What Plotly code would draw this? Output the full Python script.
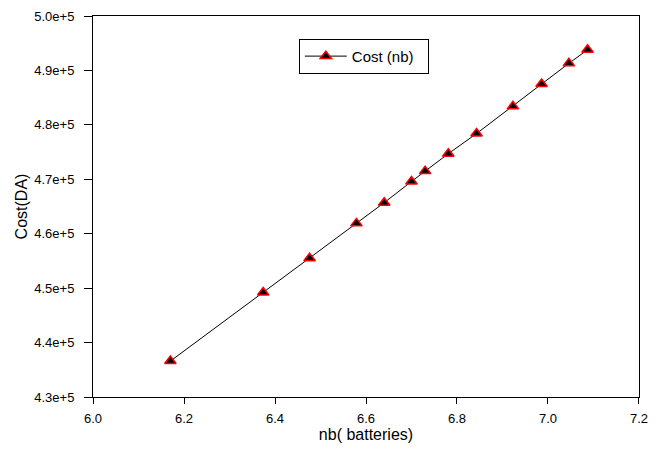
import plotly.graph_objects as go

nb_batteries = [6.170, 6.374, 6.476, 6.579, 6.640, 6.700, 6.730, 6.781, 6.843, 6.923, 6.986, 7.046, 7.087]
cost_da = [436600, 449200, 455500, 461900, 465700, 469600, 471500, 474700, 478400, 483400, 487500, 491300, 493800]
series_name = "Cost (nb)"
x_ticks = [6.0, 6.2, 6.4, 6.6, 6.8, 7.0, 7.2]
y_ticks = [430000, 440000, 450000, 460000, 470000, 480000, 490000, 500000]

fig = go.Figure()
fig.add_trace(go.Scatter(
    x=nb_batteries, y=cost_da, mode="lines+markers", name=series_name + "  ",
    line=dict(color="black", width=1),
    marker=dict(symbol="triangle-up", size=10, color="black",
                line=dict(color="red", width=1.5)),
))

font = "Liberation Sans, Arial, sans-serif"
fig.update_layout(
    width=657, height=450,
    margin=dict(l=93, r=9, t=15, b=53),
    paper_bgcolor="white", plot_bgcolor="white",
    font=dict(family=font, size=13, color="black"),
    showlegend=True,
    legend=dict(x=0.377, y=0.94, xanchor="left", yanchor="top",
                bordercolor="black", borderwidth=1, bgcolor="white",
                font=dict(size=15), itemwidth=42),
    xaxis=dict(range=[5.9999, 7.2001], tickvals=x_ticks, tickformat=".1f",
               showline=True, linecolor="black", linewidth=1, mirror=True,
               ticks="outside", ticklen=6, tickcolor="black",
               ticklabelstandoff=3,
               showgrid=False, zeroline=False,
               title=dict(text="nb( batteries)", font=dict(size=16), standoff=3)),
    yaxis=dict(range=[430000, 500000], tickvals=y_ticks, tickformat=".1e",
               showline=True, linecolor="black", linewidth=1, mirror=True,
               ticks="outside", ticklen=8, tickcolor="black",
               ticklabelstandoff=7,
               showgrid=False, zeroline=False,
               title=dict(text="Cost(DA)", font=dict(size=16), standoff=2)),
)

fig.write_html("out.html")
